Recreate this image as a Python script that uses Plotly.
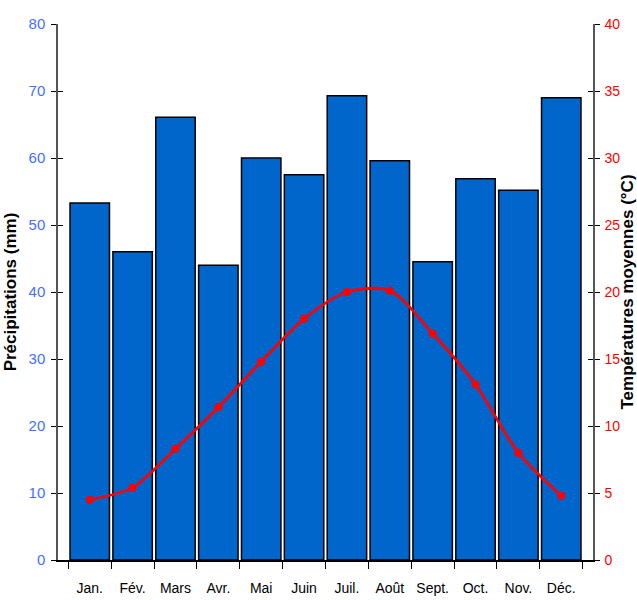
import plotly.graph_objects as go

months = ["Jan.", "Fév.", "Mars", "Avr.", "Mai", "Juin", "Juil.", "Août", "Sept.", "Oct.", "Nov.", "Déc."]
precip_mm = [53.3, 46.0, 66.1, 44.0, 60.0, 57.5, 69.3, 59.6, 44.5, 56.9, 55.2, 69.0]
temp_c = [4.5, 5.4, 8.3, 11.4, 14.8, 18.0, 20.0, 20.1, 16.9, 13.1, 8.0, 4.8]

fig = go.Figure()
fig.add_trace(go.Bar(
    x=months, y=precip_mm, yaxis="y",
    marker=dict(color="#0066CC", line=dict(color="black", width=1.5)),
    showlegend=False,
))
fig.add_trace(go.Scatter(
    x=months, y=temp_c, yaxis="y2", mode="lines+markers",
    line=dict(color="#FF0000", width=2.8, shape="spline", smoothing=0.8),
    marker=dict(color="#FF0000", size=8),
    showlegend=False,
))

font_family = "Liberation Sans, Arial, sans-serif"
fig.update_layout(
    width=637, height=600,
    margin=dict(l=58, r=44, t=24, b=40),
    plot_bgcolor="white", paper_bgcolor="white",
    bargap=0.08,
    font=dict(family=font_family, size=14, color="black"),
    xaxis=dict(
        showline=True, linecolor="black", linewidth=1.5,
        ticks="outside", ticklen=7, tickcolor="black", tickson="boundaries",
        tickfont=dict(size=14, color="black"), ticklabelstandoff=14,
        showgrid=False, zeroline=False, automargin=False,
    ),
    yaxis=dict(
        range=[0, 80], dtick=10,
        showline=True, linecolor="#555555", linewidth=1.5,
        ticks="outside", ticklen=5, tickcolor="black", ticklabelstandoff=3,
        tickfont=dict(size=15, color="#4470FF"),
        showgrid=False, zeroline=False, automargin=False,
        title=dict(text="<b>Précipitations (mm)</b>", font=dict(size=17, color="black"), standoff=8),
    ),
    yaxis2=dict(
        range=[0, 40], dtick=5, overlaying="y", side="right",
        showline=True, linecolor="#555555", linewidth=1.5,
        ticks="outside", ticklen=5, tickcolor="black", ticklabelstandoff=2,
        tickfont=dict(size=14, color="#FF0000"),
        showgrid=False, zeroline=False, automargin=False,
        title=dict(text="<b>Températures moyennes (°C)</b>", font=dict(size=17, color="black"), standoff=6),
    ),
    yaxis3=dict(
        range=[0, 80], dtick=10, overlaying="y", side="left", anchor="x",
        ticks="inside", ticklen=5, tickcolor="black", showticklabels=False,
        showline=False, showgrid=False, zeroline=False, automargin=False,
    ),
    yaxis4=dict(
        range=[0, 40], dtick=5, overlaying="y", side="right", anchor="x",
        ticks="inside", ticklen=5, tickcolor="black", showticklabels=False,
        showline=False, showgrid=False, zeroline=False, automargin=False,
    ),
)
# invisible helper traces so the tick-crossing axes are drawn
fig.add_trace(go.Scatter(x=[months[0]], y=[None], yaxis="y3", showlegend=False, hoverinfo="skip"))
fig.add_trace(go.Scatter(x=[months[0]], y=[None], yaxis="y4", showlegend=False, hoverinfo="skip"))

fig.write_html("out.html", config={"responsive": False, "displayModeBar": False},
               post_script="document.body.style.margin='0';document.body.style.overflow='hidden';")
